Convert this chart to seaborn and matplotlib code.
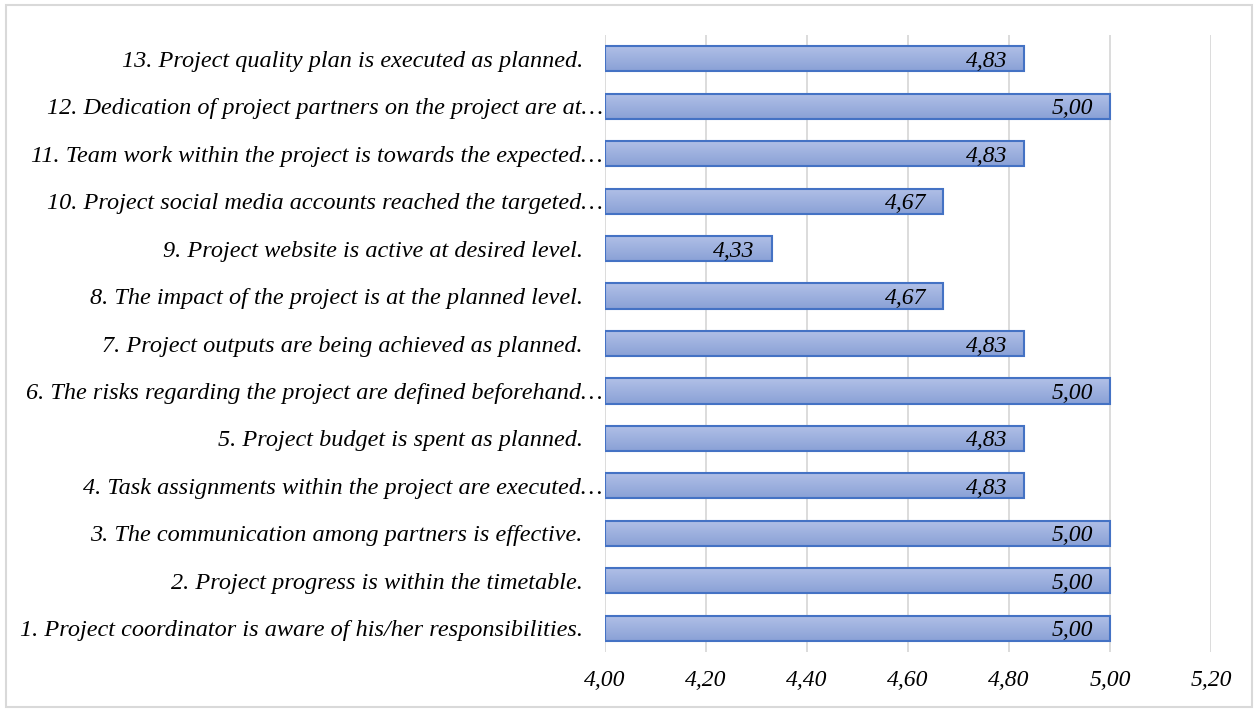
import matplotlib
matplotlib.use("Agg")
import matplotlib.pyplot as plt
import matplotlib.transforms as mtransforms
from matplotlib.colors import LinearSegmentedColormap
from matplotlib.patches import Rectangle
import numpy as np
import pandas as pd
import seaborn as sns

# Survey items (top to bottom) and their mean scores
items = [
    "13. Project quality plan is executed as planned.",
    "12. Dedication of project partners on the project are at…",
    "11. Team work within the project is towards the expected…",
    "10. Project social media accounts reached the targeted…",
    "9. Project website is active at desired level.",
    "8. The impact of the project is at the planned level.",
    "7. Project outputs are being achieved as planned.",
    "6. The risks regarding the project are defined beforehand…",
    "5. Project budget is spent as planned.",
    "4. Task assignments within the project are executed…",
    "3. The communication among partners is effective.",
    "2. Project progress is within the timetable.",
    "1. Project coordinator is aware of his/her responsibilities.",
]
scores = [4.83, 5.00, 4.83, 4.67, 4.33, 4.67, 4.83, 5.00, 4.83, 4.83, 5.00, 5.00, 5.00]
x_ticks = [4.00, 4.20, 4.40, 4.60, 4.80, 5.00, 5.20]

df = pd.DataFrame({"item": items, "score": scores})

sns.set_theme(style="white")
plt.rcParams["font.family"] = ["Liberation Serif", "DejaVu Serif"]
plt.rcParams["font.style"] = "italic"
plt.rcParams["text.color"] = "black"
plt.rcParams["xtick.color"] = "black"
plt.rcParams["ytick.color"] = "black"

fig = plt.figure(figsize=(12.58, 7.09), dpi=100)
ax = fig.add_axes([0.481, 0.0804, 0.4817, 0.8702])

# Light frame around the whole chart
fig.patches.append(Rectangle((6 / 1258, 2 / 709), 1246 / 1258, 702 / 709,
                             transform=fig.transFigure, fill=False,
                             edgecolor="#d9d9d9", linewidth=1.5, zorder=0))

sns.barplot(data=df, x="score", y="item", order=items, orient="h",
            color="#9db0de", edgecolor="#4472c4", linewidth=1.5,
            width=0.53, saturation=1, ax=ax)

# Bars start at the left edge of the value axis, with a soft vertical gradient
grad_cmap = LinearSegmentedColormap.from_list("bar", ["#b1c0e7", "#8aa1d6"])
grad = np.linspace(0, 1, 64).reshape(-1, 1)
for bar in ax.patches:
    w = bar.get_x() + bar.get_width()
    bar.set_x(4.0)
    bar.set_width(w - 4.0)
    bar.set_facecolor("none")
    bar.set_zorder(3)
    y0, h = bar.get_y(), bar.get_height()
    im = ax.imshow(grad, cmap=grad_cmap, aspect="auto", origin="upper",
                   extent=[4.0, w, y0 + h, y0], zorder=2, interpolation="bilinear")
    im.set_clip_path(bar)

ax.set_xlim(4.0, 5.2)
ax.set_ylim(12.5, -0.5)
ax.set_xticks(x_ticks)
ax.set_xticklabels([f"{t:.2f}".replace(".", ",") for t in x_ticks],
                   fontsize=17, fontstyle="italic")
ax.tick_params(axis="x", length=0, pad=13)
ax.tick_params(axis="y", length=0, pad=16)
ax.set_yticks(range(len(items)))
ax.set_yticklabels(items, fontsize=17.5, fontstyle="italic")
ax.set_xlabel("")
ax.set_ylabel("")

ax.grid(axis="x", color="#d9d9d9", linewidth=1.3)
ax.set_axisbelow(True)
for s in ax.spines.values():
    s.set_visible(False)

# Truncated labels run a little closer to the axis
shift = mtransforms.ScaledTranslation(20 / 100, 0, fig.dpi_scale_trans)
for lab in ax.get_yticklabels():
    if lab.get_text().endswith("…"):
        lab.set_transform(lab.get_transform() + shift)

# Value labels just inside the end of each bar
for i, v in enumerate(scores):
    ax.annotate(f"{v:.2f}".replace(".", ","), xy=(v, i),
                xytext=(-17, 0), textcoords="offset pixels",
                ha="right", va="center_baseline", fontsize=17,
                fontstyle="italic", color="black", zorder=4)

fig.savefig("out.png", dpi=100)
